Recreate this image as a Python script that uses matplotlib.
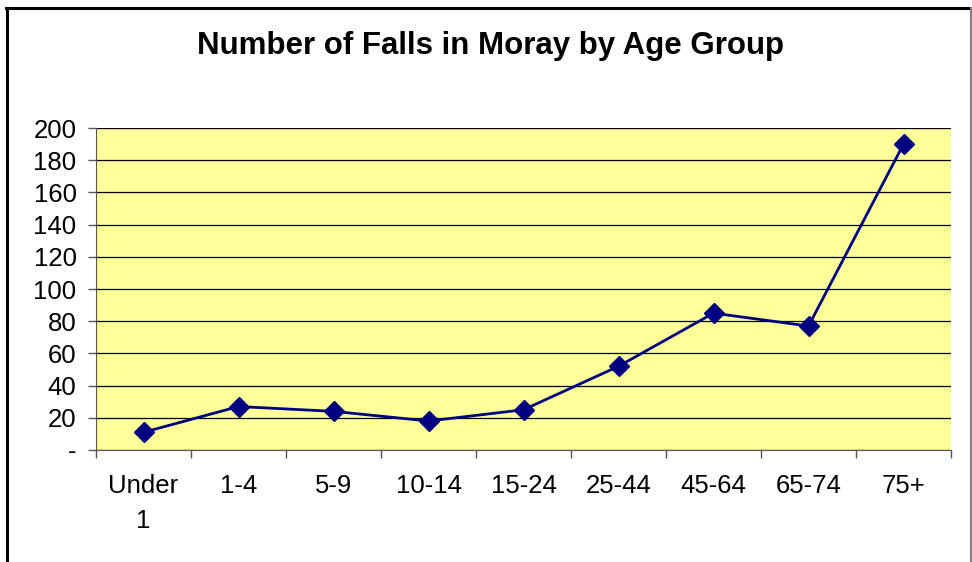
import matplotlib.pyplot as plt
from matplotlib.lines import Line2D

# Data
age_groups = ["Under\n1", "1-4", "5-9", "10-14", "15-24", "25-44", "45-64", "65-74", "75+"]
falls = [11, 27, 24, 18, 25, 52, 85, 77, 190]
y_ticks = [0, 20, 40, 60, 80, 100, 120, 140, 160, 180, 200]
y_labels = ["-", "20", "40", "60", "80", "100", "120", "140", "160", "180", "200"]

plt.rcParams["font.family"] = ["Liberation Sans", "DejaVu Sans"]

fig = plt.figure(figsize=(9.72, 5.62), dpi=100)
ax = fig.add_axes([0.0988, 0.1993, 0.8796, 0.5729])

ax.set_facecolor("#FFFF99")
x = list(range(len(age_groups)))
ax.plot(x, falls, color="#000080", linewidth=2.0, marker="D", markersize=10,
        markerfacecolor="#000080", markeredgecolor="#000080", zorder=3)

ax.set_xlim(-0.5, len(age_groups) - 0.5)
ax.set_ylim(0, 200)
ax.set_yticks(y_ticks)
ax.set_yticklabels(y_labels, fontsize=18.5)
ax.yaxis.grid(True, color="black", linewidth=0.9)
ax.set_axisbelow(True)

# category labels between boundary ticks
ax.set_xticks([i - 0.5 for i in range(len(age_groups) + 1)])
ax.set_xticklabels([])
ax.set_xticks(x, minor=True)
ax.set_xticklabels(age_groups, minor=True, fontsize=18.5, linespacing=1.6)
ax.tick_params(axis="x", which="minor", length=0, pad=17)
ax.tick_params(axis="x", which="major", length=6, width=1, color="#555555", direction="out")
ax.tick_params(axis="y", length=6, width=1, color="#555555", pad=8)

for side in ["top", "right"]:
    ax.spines[side].set_visible(False)
ax.spines["left"].set_color("#555555")
ax.spines["bottom"].set_color("#555555")

fig.text(0.505, 0.918, "Number of Falls in Moray by Age Group", ha="center", va="center",
         fontsize=22.5, fontweight="bold")

# chart area border
fig.add_artist(Line2D([0.0072, 0.0072], [0, 0.985], transform=fig.transFigure, color="black", linewidth=2.2))
fig.add_artist(Line2D([0.0062, 0.9985], [0.985, 0.985], transform=fig.transFigure, color="black", linewidth=2.2))
fig.add_artist(Line2D([0.9985, 0.9985], [0, 0.985], transform=fig.transFigure, color="#808080", linewidth=1.5))

fig.savefig("out.png", dpi=100)
